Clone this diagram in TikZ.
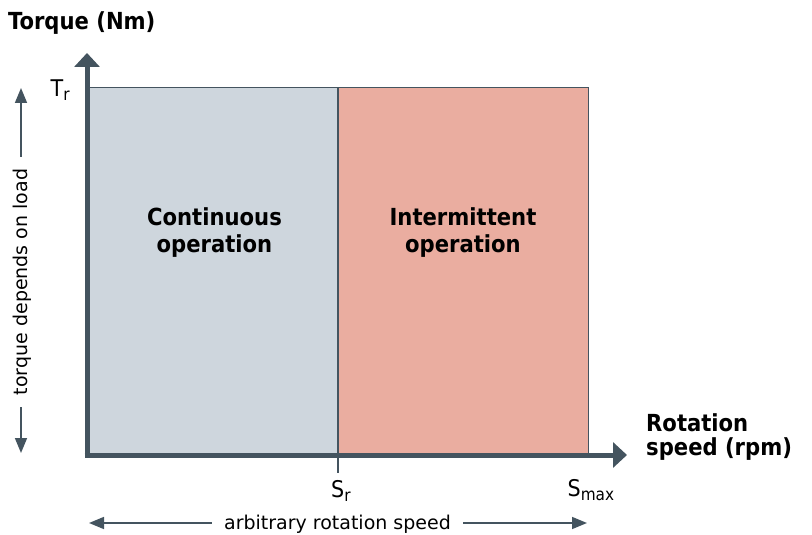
\documentclass[tikz,border=0pt]{standalone}
\usepackage{fontspec}
\setmainfont{DejaVu Sans}
\newfontfamily\condf{DejaVu Sans Condensed}
\usetikzlibrary{arrows.meta}
\definecolor{axc}{HTML}{44545F}
\definecolor{grayf}{HTML}{CED6DD}
\definecolor{pinkf}{HTML}{EAADA0}
\newcommand{\lsub}[1]{\raisebox{-4pt}{\fontsize{17}{17}\selectfont #1}}
\begin{document}
\begin{tikzpicture}[x=1pt,y=-1pt,
  axis/.style={draw=axc,line width=5pt,-{Triangle[length=14pt,width=25pt]}},
  thin arrow/.style={draw=axc,line width=1.6pt,{Triangle[length=15pt,width=12pt]}-{Triangle[length=15pt,width=12pt]}},
  region/.style={draw=axc,line width=1.5pt},
  lbl/.style={font=\condf\fontsize{23}{26}\selectfont,text=black,inner sep=0pt,anchor=base west},
  big/.style={font=\condf\fontsize{23.5}{27}\selectfont\bfseries,text=black,align=center,inner sep=0pt},
  small/.style={font=\fontsize{19}{22}\selectfont,text=black,fill=white,inner xsep=12pt,inner ysep=2pt}]
\useasboundingbox (0,0) rectangle (812,535);
% regions
\path[region,fill=grayf] (88,87.5) rectangle (338,455);
\path[region,fill=pinkf] (338,87.5) rectangle (588.5,455);
\node[big,anchor=base] (cont) at (214.5,252.7) {Continuous\\operation};
\node[big,anchor=base] (inter) at (463,252.7) {Intermittent\\operation};
% axes
\coordinate (O) at (87,455);
\coordinate (ytip) at (87,53);
\coordinate (xtip) at (627,455);
\draw[axis] ([yshift=2.5pt]O) -- (ytip);
\draw[axis] ([xshift=-2.5pt]O) -- (xtip);
% tick
\coordinate (srtop) at (338,455);
\coordinate (srbot) at (338,473);
\draw[axc,line width=1.5pt] (srtop) -- (srbot);
% labels
\node[font=\condf\fontsize{23.5}{27}\selectfont\bfseries,anchor=base west,inner sep=0pt] (ty) at (8,29.5) {Torque (Nm)};
\node[font=\condf\fontsize{23.5}{24}\selectfont\bfseries,anchor=base west,align=left,inner sep=0pt] (tx) at (646,455.7) {Rotation\\speed (rpm)};
\node[lbl] (tr) at (50.5,97) {T\lsub{r}};
\node[lbl] (sr) at (331,497) {S\lsub{r}};
\node[lbl] (smax) at (567.5,496.5) {S\lsub{max}};
% bottom arrow
\coordinate (bl) at (89,523);
\coordinate (br) at (587,523);
\draw[thin arrow] (bl) -- (br);
\node[small] (arb) at (337.5,524.5) {arbitrary rotation speed};
% left arrow
\coordinate (lt) at (21,88);
\coordinate (lb) at (21,453);
\draw[thin arrow] (lt) -- (lb);
\node[small,rotate=90] (tdl) at (22.5,282) {torque depends on load};
\end{tikzpicture}
\end{document}
